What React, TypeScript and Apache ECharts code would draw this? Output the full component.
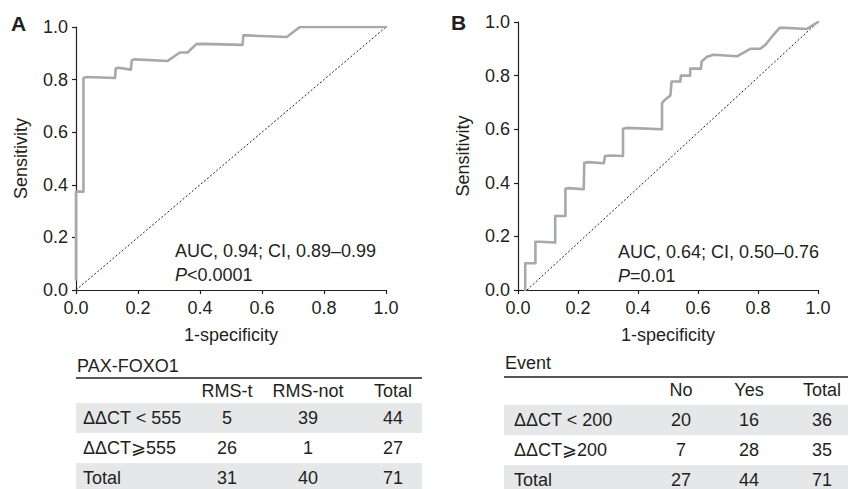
import React, { useEffect, useRef } from "react";
import * as echarts from "echarts";

const FONT = "'Liberation Sans', Arial, Helvetica, sans-serif";
const TEXT = "#231f20";
const CURVE = "#a6a8ab";
const SHADE = "#e6e7e9";

// ROC curve A (1-specificity, sensitivity)
const rocA: [number, number][] = [
  [0, 0.04], [0, 0.374], [0.024, 0.374], [0.024, 0.806], [0.035, 0.81],
  [0.126, 0.806], [0.128, 0.842], [0.137, 0.845], [0.177, 0.838], [0.18, 0.874],
  [0.19, 0.877], [0.296, 0.871], [0.335, 0.903], [0.36, 0.903], [0.388, 0.935],
  [0.41, 0.936], [0.537, 0.932], [0.54, 0.968], [0.55, 0.968], [0.68, 0.962],
  [0.722, 1.0], [0.74, 1.0], [1.0, 1.0],
];

// ROC curve B
const rocB: [number, number][] = [
  [0.024, 0], [0.024, 0.1], [0.058, 0.1], [0.058, 0.18], [0.07, 0.18],
  [0.124, 0.177], [0.124, 0.276], [0.158, 0.276], [0.158, 0.378], [0.17, 0.38],
  [0.219, 0.376], [0.221, 0.475], [0.235, 0.477], [0.286, 0.473], [0.29, 0.5],
  [0.31, 0.502], [0.35, 0.5], [0.35, 0.602], [0.365, 0.605], [0.48, 0.6],
  [0.48, 0.697], [0.49, 0.71], [0.508, 0.726], [0.512, 0.778], [0.541, 0.778],
  [0.543, 0.8], [0.574, 0.8], [0.574, 0.826], [0.61, 0.826], [0.612, 0.853],
  [0.63, 0.87], [0.652, 0.878], [0.73, 0.872], [0.774, 0.9], [0.808, 0.9],
  [0.825, 0.915], [0.847, 0.946], [0.872, 0.978], [0.89, 0.978], [0.963, 0.974],
  [1.0, 1.0],
];

const chanceA: [number, number][] = [[0, 0], [1, 1]];
const chanceB: [number, number][] = [[0.03, 0], [1, 1]];

const statsA = ["AUC, 0.94; CI, 0.89–0.99", "<0.0001"];
const statsB = ["AUC, 0.64; CI, 0.50–0.76", "=0.01"];

const tableATitle = "PAX-FOXO1";
const tableAHeader = ["RMS-t", "RMS-not", "Total"];
const tableARows = ["ΔΔCT < 555", "ΔΔCT⩾555", "Total"];
const tableAValues = [[5, 39, 44], [26, 1, 27], [31, 40, 71]];

const tableBTitle = "Event";
const tableBHeader = ["No", "Yes", "Total"];
const tableBRows = ["ΔΔCT < 200", "ΔΔCT⩾200", "Total"];
const tableBValues = [[20, 16, 36], [7, 28, 35], [27, 44, 71]];

const FS = 18;

function txt(x: number, y: number, text: string, align = "left", extra: any = {}) {
  return {
    type: "text",
    x,
    y,
    style: {
      text,
      fill: TEXT,
      font: `${extra.fontWeight || "normal"} ${extra.fontSize || FS}px ${FONT}`,
      textAlign: align,
      textVerticalAlign: "middle",
    },
  };
}

function buildTable(
  left: number, right: number, labelX: number, cols: number[], bandTop: number,
  title: string, header: string[], rows: string[], values: number[][], titleY: number, ruleY: number
) {
  const els: any[] = [];
  const rowH = 30;
  rows.forEach((_, i) => {
    if (i % 2 === 0) {
      els.push({
        type: "rect",
        shape: { x: left, y: bandTop + i * rowH, width: right - left, height: rowH },
        style: { fill: SHADE },
        z: 0,
      });
    }
  });
  els.push(txt(left + 1, titleY, title));
  els.push({
    type: "line",
    shape: { x1: left, y1: ruleY, x2: right, y2: ruleY },
    style: { stroke: TEXT, lineWidth: 1.5 },
  });
  header.forEach((h, j) => els.push(txt(cols[j], ruleY + 13, h, "center")));
  rows.forEach((r, i) => {
    const cy = bandTop + i * rowH + rowH / 2;
    els.push(txt(labelX, cy, r));
    values[i].forEach((v, j) => els.push(txt(cols[j], cy, String(v), "center")));
  });
  return els;
}

function statText(x: number, y: number, s: string[]) {
  return [
    txt(x, y, s[0]),
    {
      type: "text",
      x,
      y: y + 24,
      style: {
        text: `{i|P}{n|${s[1]}}`,
        textVerticalAlign: "middle",
        rich: {
          i: { fontStyle: "italic", fontSize: FS, fontFamily: FONT, fill: TEXT },
          n: { fontSize: FS, fontFamily: FONT, fill: TEXT },
        },
      },
    },
  ];
}

function axisPair(gridIndex: number) {
  const common = {
    gridIndex,
    type: "value",
    min: 0,
    max: 1,
    interval: 0.2,
    splitLine: { show: false },
    axisLine: { show: true, lineStyle: { color: TEXT, width: 1.2 } },
    axisTick: { show: true, length: 4, lineStyle: { color: TEXT, width: 1.2 } },
    axisLabel: {
      color: TEXT,
      fontSize: FS,
      fontFamily: FONT,
      formatter: (v: number) => v.toFixed(1),
    },
    nameLocation: "middle",
    nameTextStyle: { color: TEXT, fontSize: FS, fontFamily: FONT },
  };
  return {
    x: { ...common, name: "1-specificity", nameGap: 36, axisLabel: { ...common.axisLabel, margin: 9 } },
    y: { ...common, name: "Sensitivity", nameGap: 46, axisLabel: { ...common.axisLabel, margin: 8 } },
  };
}

export default function App() {
  const ref = useRef<HTMLDivElement>(null);
  useEffect(() => {
    if (!ref.current) return;
    const chart = echarts.init(ref.current, null, { renderer: "svg" });
    const a = axisPair(0);
    const b = axisPair(1);
    const lineSeries = (xi: number, data: [number, number][]) => ({
      type: "line",
      xAxisIndex: xi,
      yAxisIndex: xi,
      data,
      symbol: "none",
      smooth: false,
      lineStyle: { color: CURVE, width: 2.6, cap: "round", join: "round" },
      z: 3,
    });
    const chanceSeries = (xi: number, data: [number, number][]) => ({
      type: "line",
      xAxisIndex: xi,
      yAxisIndex: xi,
      data,
      symbol: "none",
      lineStyle: { color: TEXT, width: 1, type: [2, 2] },
      z: 2,
    });
    chart.setOption({
      animation: false,
      backgroundColor: "#ffffff",
      grid: [
        { left: 76, top: 27, width: 310, height: 263 },
        { left: 518, top: 22, width: 300, height: 268 },
      ],
      xAxis: [a.x, b.x],
      yAxis: [a.y, b.y],
      series: [
        chanceSeries(0, chanceA),
        lineSeries(0, rocA),
        chanceSeries(1, chanceB),
        lineSeries(1, rocB),
      ],
      graphic: [
        txt(11, 23, "A", "left", { fontWeight: "bold", fontSize: 21 }),
        txt(451, 22, "B", "left", { fontWeight: "bold", fontSize: 21 }),
        ...statText(175, 251, statsA),
        ...statText(618, 252, statsB),
        ...buildTable(76, 422, 83, [227, 308, 393], 403, tableATitle, tableAHeader, tableARows, tableAValues, 366, 378),
        ...buildTable(504, 848, 514, [681, 749, 822], 405, tableBTitle, tableBHeader, tableBRows, tableBValues, 363, 377),
      ],
    });
    return () => chart.dispose();
  }, []);
  return (
    <div
      ref={ref}
      style={{ position: "fixed", left: 0, top: 0, width: 848, height: 489, background: "#fff" }}
    />
  );
}
